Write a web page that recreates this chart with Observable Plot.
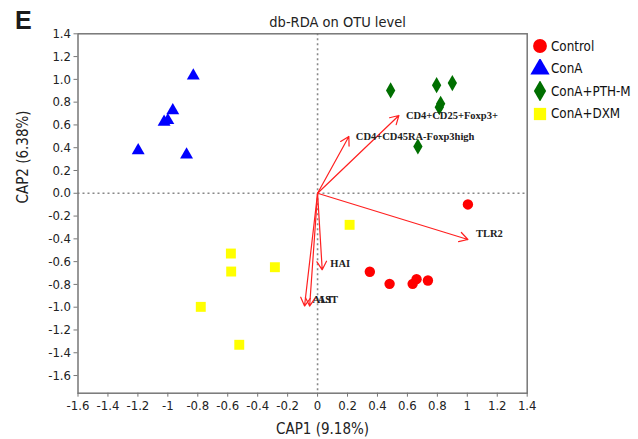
<!DOCTYPE html>
<html>
<head>
<meta charset="utf-8">
<script src="https://cdn.jsdelivr.net/npm/d3@7"></script>
<script src="https://cdn.jsdelivr.net/npm/@observablehq/plot@0.6"></script>
<style>
  html, body { margin: 0; padding: 0; background: #fff; }
  #wrap { position: relative; width: 638px; height: 439px; }
  #legend { position: absolute; left: 530px; top: 35px; font-family: 'DejaVu Sans Condensed', 'Liberation Sans', sans-serif; font-size: 13.3px; color: #111; }
  .item { display: flex; align-items: center; height: 22.5px; }
  .item svg { width: 20px; height: 20px; margin-right: 1px; }
</style>
</head>
<body>
<div id="wrap"><div id="legend"></div></div>
<script>
const groups = ["Control", "ConA", "ConA+PTH-M", "ConA+DXM"];
const groupColors = ["#ff0000", "#0000ff", "#006f00", "#ffff00"];
const groupSymbols = ["circle", "triangle", "diamond", "square"];

const controlX = [1.004, 0.349, 0.481, 0.635, 0.661, 0.737];
const controlY = [-0.098, -0.689, -0.795, -0.795, -0.754, -0.766];
const conAX = [-0.830, -0.967, -1.000, -1.025, -1.198, -0.875];
const conAY = [1.032, 0.727, 0.640, 0.625, 0.376, 0.338];
const pthX = [0.488, 0.795, 0.900, 0.822, 0.813, 0.670];
const pthY = [0.903, 0.949, 0.967, 0.786, 0.756, 0.411];
const dxmX = [0.214, -0.579, -0.577, -0.285, -0.780, -0.523];
const dxmY = [-0.277, -0.529, -0.687, -0.649, -0.997, -1.330];

const vectorNames = ["CD4+CD25+Foxp3+", "CD4+CD45RA-Foxp3high", "TLR2", "HAI", "ALT", "AST"];
const vectorX = [0.543, 0.209, 1.004, 0.031, -0.087, -0.053];
const vectorY = [0.683, 0.499, -0.406, -0.672, -0.990, -0.990];

const xTicks = [-1.6, -1.4, -1.2, -1, -0.8, -0.6, -0.4, -0.2, 0, 0.2, 0.4, 0.6, 0.8, 1, 1.2, 1.4];
const yTicks = [-1.6, -1.4, -1.2, -1.0, -0.8, -0.6, -0.4, -0.2, 0.0, 0.2, 0.4, 0.6, 0.8, 1.0, 1.2, 1.4];

const seriesX = [controlX, conAX, pthX, dxmX];
const seriesY = [controlY, conAY, pthY, dxmY];
const points = groups.flatMap((g, i) => seriesX[i].map((x, j) => ({group: g, x, y: seriesY[i][j]})));
const vectors = vectorNames.map((name, i) => ({name, x: vectorX[i], y: vectorY[i]}));

const FONT = "'DejaVu Sans Condensed', 'Liberation Sans', sans-serif";
const AX = "#777";
const SERIF = "'Liberation Serif', serif";

const chart = Plot.plot({
  width: 638,
  height: 439,
  marginLeft: 77.5,
  marginRight: 111.3,
  marginTop: 33.3,
  marginBottom: 46.3,
  style: {fontFamily: FONT, fontSize: "13px", color: "#222", background: "white"},
  x: {domain: [-1.6, 1.4]},
  y: {domain: [-1.755, 1.4]},
  color: {domain: groups, range: groupColors},
  symbol: {domain: groups, range: groupSymbols},
  marks: [
    Plot.ruleX([0], {stroke: "#888", strokeWidth: 1.6, strokeDasharray: "2,3"}),
    Plot.ruleY([0], {stroke: "#888", strokeWidth: 1.6, strokeDasharray: "2,3"}),
    Plot.frame({stroke: AX, strokeWidth: 1.5}),
    Plot.axisX({ticks: xTicks, tickFormat: d => String(d), tickSize: 4, stroke: AX, fontSize: 13, tickPadding: 4, label: null}),
    Plot.axisY({ticks: yTicks, tickFormat: d => d.toFixed(1), tickSize: 4, stroke: AX, fontSize: 13, tickPadding: 3, label: null}),
    Plot.text(["CAP1 (9.18%)"], {frameAnchor: "bottom", lineAnchor: "bottom", dx: 20, dy: 41, fontSize: 15, fill: "#222"}),
    Plot.text(["CAP2 (6.38%)"], {frameAnchor: "left", lineAnchor: "middle", rotate: -90, dx: -54.5, dy: -10, fontSize: 15, fill: "#222"}),
    Plot.dot(points.filter(p => p.group === "ConA+DXM"), {x: "x", y: "y", symbol: "group", fill: "group", r: 5.6}),
    Plot.dot(points.filter(p => p.group === "ConA"), {x: "x", y: "y", symbol: "group", fill: "group", r: 4.8}),
    Plot.dot(points.filter(p => p.group === "ConA+PTH-M"), {x: "x", y: "y", symbol: "group", fill: "group", r: 4.9}),
    Plot.dot(points.filter(p => p.group === "Control"), {x: "x", y: "y", symbol: "group", fill: "group", r: 5.2}),
    Plot.arrow(vectors, {x1: d => 0, y1: d => 0, x2: "x", y2: "y", stroke: "#ff2020", strokeWidth: 1.2, headLength: 12, headAngle: 60}),
    Plot.text(vectors.filter(v => v.y > 0), {x: "x", y: "y", text: "name", textAnchor: "start", dx: 7, dy: 0,
      fontFamily: SERIF, fontWeight: "bold", fontSize: 10.5, fill: "#222"}),
    Plot.text(vectors.filter(v => v.y < 0), {x: "x", y: "y", text: "name", textAnchor: "start", dx: 8, dy: -6,
      fontFamily: SERIF, fontWeight: "bold", fontSize: 10.5, fill: "#222"}),
    Plot.text(["db-RDA on OTU level"], {frameAnchor: "top", lineAnchor: "bottom", dx: 35, dy: -7, fontSize: 14.5, fill: "#222"}),
    Plot.text(["E"], {frameAnchor: "top-left", textAnchor: "start", lineAnchor: "bottom", dx: -63, dy: -5,
      fontFamily: "'Liberation Sans', sans-serif", fontWeight: "bold", fontSize: 25, fill: "#1a1a1a"})
  ]
});
document.getElementById("wrap").prepend(chart);

// legend
const legend = d3.select("#legend");
const legendSizes = [150, 160, 130, 150];
groups.forEach((g, i) => {
  const item = legend.append("div").attr("class", "item");
  const svg = item.append("svg").attr("viewBox", "-10 -10 20 20");
  const sym = [d3.symbolCircle, d3.symbolTriangle, d3.symbolDiamond, d3.symbolSquare][i];
  svg.append("path").attr("d", d3.symbol(sym, legendSizes[i])()).attr("fill", groupColors[i]);
  item.append("span").text(g);
});
</script>
</body>
</html>
